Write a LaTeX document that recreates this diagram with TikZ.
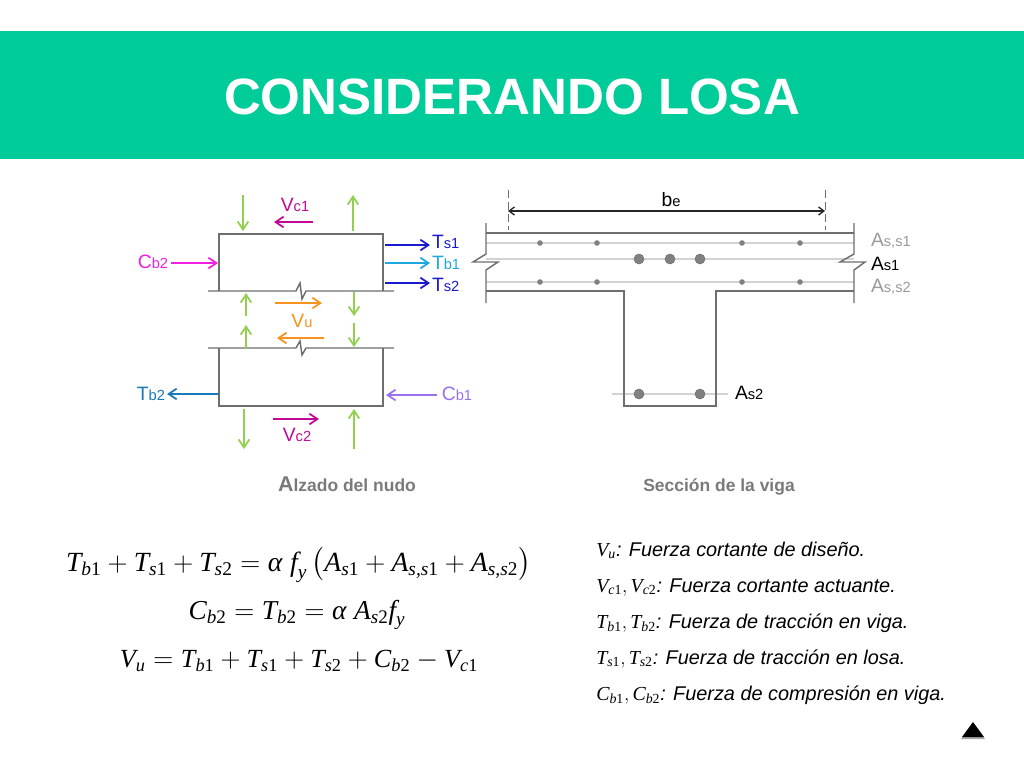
\documentclass[tikz,border=0pt]{standalone}
\usepackage{amsmath}
\usepackage{fontspec}
\setmainfont{Liberation Sans}
\newfontfamily\mf{Liberation Serif}
\usetikzlibrary{arrows.meta,shadows}
\definecolor{headgreen}{HTML}{00CC99}
\definecolor{beam}{HTML}{6E6E6E}
\definecolor{wire}{HTML}{D2D2D2}
\definecolor{bar}{HTML}{808080}
\definecolor{force}{HTML}{92D050}
\definecolor{vcc}{HTML}{C00A96}
\definecolor{vuc}{HTML}{F7941D}
\definecolor{tsc}{HTML}{1A1ACC}
\definecolor{tbc}{HTML}{1EA8E0}
\definecolor{cbt}{HTML}{F020E0}
\definecolor{tbd}{HTML}{1878B8}
\definecolor{cbo}{HTML}{9B70EE}
\definecolor{capg}{HTML}{7A7A7A}
\definecolor{asg}{HTML}{9A9A9A}
\newcommand{\lab}[2]{{\fontsize{14.5}{16}\selectfont #1}{\fontsize{11}{13}\selectfont #2}}
% letter, italic subscript part, upright subscript part
\newcommand{\mi}[1]{\text{\mf\itshape\mdseries #1}}
\newcommand{\mr}[1]{\text{\mf\upshape\mdseries #1}}
\newcommand{\qty}[3]{\mi{#1}_{\mi{#2}\mr{#3}}}
\tikzset{
  x=0.75pt,y=-0.75pt,
  frc/.style={-{Straight Barb[length=6pt,width=8pt,line width=1.3pt]},line width=1.3pt},
  grn/.style={frc,force},
  outl/.style={draw=beam,line width=1.1pt},
  wireline/.style={draw=wire,line width=0.8pt},
  lbl/.style={inner sep=0pt,outer sep=0pt},
  big/.style={circle,fill=bar,draw=beam,line width=0.4pt,minimum size=7.5pt,inner sep=0pt},
  small/.style={circle,fill=bar,minimum size=4.2pt,inner sep=0pt},
  eqn/.style={inner sep=0pt},
  leg/.style={inner sep=0pt,anchor=base west,font=\fontsize{14.9}{17}\selectfont\itshape},
  capt/.style={inner sep=0pt,anchor=base,text=capg,font=\bfseries\fontsize{13.1}{15}\selectfont}
}
\begin{document}
\begin{tikzpicture}
\useasboundingbox (0,0) rectangle (1024,768);
\fill[white] (0,0) rectangle (1024,768);
\node[fill=headgreen,minimum width=768pt,minimum height=96pt,inner sep=0pt,anchor=north west] (head) at (0,31) {};
\node[text=white,font=\bfseries\fontsize{38.3}{44}\selectfont,inner sep=0pt] (title) at (512,97) {CONSIDERANDO LOSA};

% elevation
\coordinate (tl) at (219,234);\coordinate (tr) at (383,234);
\coordinate (ml) at (219,291);\coordinate (mr) at (383,291);
\draw[outl] (208,291) -- (296,291) -- (300,283) -- (302,299) -- (306,291) -- (394,291);
\draw[outl] (ml) -- (tl) -- (tr) -- (mr);
\draw[outl] (208,348) -- (296,348) -- (300,341) -- (302,355) -- (306,348) -- (394,348);
\draw[outl] (219,348) -- (219,406) -- (383,406) -- (383,348);

\draw[grn] (243,195) -- (243,231);
\draw[grn] (353,231) -- (353,195);
\draw[grn] (246,316) -- (246,293);
\draw[grn] (246,348) -- (246,325);
\draw[grn] (354,292) -- (354,316);
\draw[grn] (354,323) -- (354,347);
\draw[grn] (244,409) -- (244,449);
\draw[grn] (354,449) -- (354,409);

\node[lbl,text=vcc] (vc1) at (295,205) {\lab{V}{c1}};
\node[lbl,text=vcc] (vc2) at (297,435) {\lab{V}{c2}};
\node[lbl,text=vuc] (vu) at (302,321) {\lab{V}{u}};
\node[lbl,text=tsc,anchor=west] (ts1) at (432,242) {\lab{T}{s1}};
\node[lbl,text=tbc,anchor=west] (tb1) at (432,263) {\lab{T}{b1}};
\node[lbl,text=tsc,anchor=west] (ts2) at (432,285) {\lab{T}{s2}};
\node[lbl,text=cbt] (cb2) at (153,262) {\lab{C}{b2}};
\node[lbl,text=tbd] (tb2) at (151,394) {\lab{T}{b2}};
\node[lbl,text=cbo] (cb1) at (457,394) {\lab{C}{b1}};

\draw[frc,vcc] (313,222) -- (274,222);
\draw[frc,vcc] (273,419) -- (319,419);
\draw[frc,vuc] (275,303) -- (322,303);
\draw[frc,vuc] (324,338) -- (277,338);
\draw[frc,tsc,shorten >=1.5pt] (385,245) -- (ts1.west |- 0,245);
\draw[frc,tbc,shorten >=1.5pt] (385,263) -- (tb1.west);
\draw[frc,tsc,shorten >=1.5pt] (385,283) -- (ts2.west |- 0,283);
\draw[frc,cbt,line width=1pt] (cb2.east) ++(3,1) -- (218,263);
\draw[frc,tbd,line width=1pt,shorten >=1.5pt] (219,394) -- (tb2.east);
\draw[frc,cbo,line width=1pt] (cb1.west) ++(-5,1) -- (386,395);

\node[capt] (alz) at (347,491.5) {{\fontsize{16}{18}\selectfont A}lzado del nudo};

% section
\coordinate (dl) at (508,190);\coordinate (dr) at (825,190);
\draw[draw=beam,line width=0.6pt,dash pattern=on 6pt off 3pt] (dl) -- (508,230);
\draw[draw=beam,line width=0.6pt,dash pattern=on 6pt off 3pt] (dr) -- (825,230);
\draw[{Straight Barb[length=4pt,width=6pt]}-{Straight Barb[length=4pt,width=6pt]},line width=1pt,black!85] (508,211) -- (825,211);
\node[lbl] (be) at (671,200) {\lab{b}{e}};

\draw[wireline] (486,243) -- (854,243);
\draw[wireline] (486,259) -- (854,259);
\draw[wireline] (486,282) -- (854,282);
\draw[wireline] (612,394) -- (728,394);

\draw[outl] (486,223) -- (486,254) -- (473,262) -- (498,262) -- (486,270) -- (486,303);
\draw[outl] (854,223) -- (854,254) -- (840,262) -- (865,262) -- (854,270) -- (854,303);
\draw[outl] (486,233) -- (854,233);
\draw[outl] (486,291) -- (624,291) -- (624,406) -- (716,406) -- (716,291) -- (854,291);

\foreach \n/\x/\y in {a/540/243,b/597/243,c/742/243,d/800/243,e/540/282,f/597/282,g/742/282,h/800/282}
  \node[small] (s\n) at (\x,\y) {};
\foreach \n/\x/\y in {a/639/259,b/670/259,c/700/259,d/639/394,e/700/394}
  \node[big] (b\n) at (\x,\y) {};

\node[lbl,text=asg,anchor=west] (ass1) at (871,241) {\lab{A}{s,s1}};
\node[lbl,anchor=west] (as1) at (871,264) {\lab{A}{s1}};
\node[lbl,text=asg,anchor=west] (ass2) at (871,287) {\lab{A}{s,s2}};
\node[lbl,anchor=west] (as2) at (735,393) {\lab{A}{s2}};
\node[capt] (sec) at (719,491.5) {Sección de la viga};

% equations
\node[eqn,font=\fontsize{20.8}{24}\selectfont] (e1) at (298.5,565) {$\qty{T}{b}{1}+\qty{T}{s}{1}+\qty{T}{s}{2}=\mi{α}\;\qty{f}{y}{}\,\bigl(\qty{A}{s}{1}+\qty{A}{s,s}{1}+\qty{A}{s,s}{2}\bigr)$};
\node[eqn,font=\fontsize{20.5}{24}\selectfont] (e2) at (297,615) {$\qty{C}{b}{2}=\qty{T}{b}{2}=\mi{α}\;\qty{A}{s}{2}\qty{f}{y}{}$};
\node[eqn,font=\fontsize{19.6}{24}\selectfont] (e3) at (299,661) {$\qty{V}{u}{}=\qty{T}{b}{1}+\qty{T}{s}{1}+\qty{T}{s}{2}+\qty{C}{b}{2}-\qty{V}{c}{1}$};

% legend
\node[leg] (l1) at (596,556) {$\qty{V}{u}{}$: Fuerza cortante de diseño.};
\node[leg] (l2) at (596,592) {$\qty{V}{c}{1},\qty{V}{c}{2}$: Fuerza cortante actuante.};
\node[leg] (l3) at (596,628) {$\qty{T}{b}{1},\qty{T}{b}{2}$: Fuerza de tracción en viga.};
\node[leg] (l4) at (596,664) {$\qty{T}{s}{1},\qty{T}{s}{2}$: Fuerza de tracción en losa.};
\node[leg] (l5) at (596,700) {$\qty{C}{b}{1},\qty{C}{b}{2}$: Fuerza de compresión en viga.};

\fill[black!35] (961,739) -- (973,724) -- (985,739) -- cycle;
\fill[black] (962,737) -- (973,722) -- (984,737) -- cycle;
\end{tikzpicture}
\end{document}
